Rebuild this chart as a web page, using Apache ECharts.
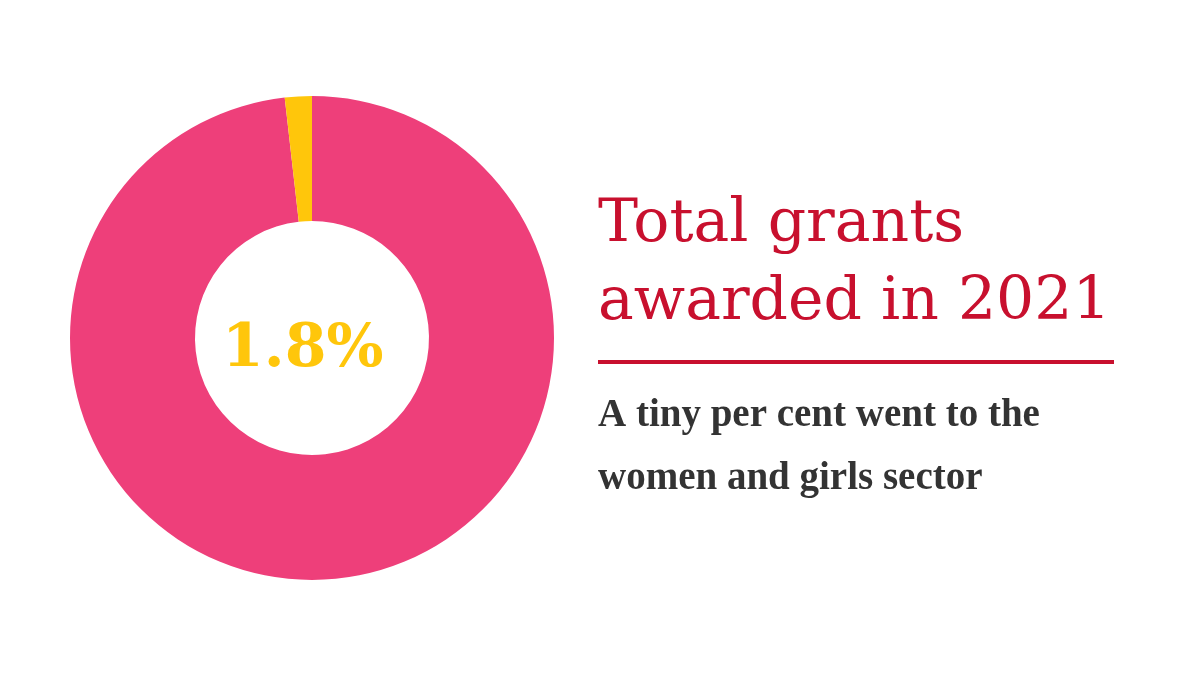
<!DOCTYPE html>
<html>
<head>
<meta charset="UTF-8">
<script src="https://cdn.jsdelivr.net/npm/echarts@6/dist/echarts.min.js"></script>
<style>
html, body { margin: 0; padding: 0; background: #fff; }
#main { width: 1200px; height: 675px; }
</style>
</head>
<body>
<div id="main"></div>
<script>
var categories = ['Other sectors', 'Women and girls sector'];
var shares = [98.2, 1.8];
var colours = ['#EE3F7A', '#FFC60B'];

var chart = echarts.init(document.getElementById('main'));
var pieData = categories.map(function (c, i) {
	return { name: c, value: shares[i], itemStyle: { color: colours[i] } };
});

chart.setOption({
	animation: false,
	series: [{
		type: 'pie',
		center: [312, 338],
		radius: [117, 242],
		startAngle: 90,
		label: { show: false },
		labelLine: { show: false },
		data: pieData
	}],
	graphic: [
		{ type: 'text', left: 312 - 90, top: 338 - 18, style: {
			text: shares[1] + '%', fill: '#FFC60B', font: 'bold 60px "DejaVu Serif"',
			width: 180, align: 'center' } },
		{ type: 'text', left: 598, top: 186, style: {
			text: 'Total grants\nawarded in 2021', fill: '#C8102E',
			font: '500 60px "DejaVu Serif"', lineHeight: 78 } },
		{ type: 'rect', shape: { x: 598, y: 360, width: 516, height: 4 }, style: { fill: '#C8102E' } },
		{ type: 'text', left: 598, top: 384, style: {
			text: 'A tiny per cent went to the\nwomen and girls sector', fill: '#333333',
			font: 'bold 39px "Liberation Serif"', lineHeight: 63 } }
	]
});
</script>
</body>
</html>
